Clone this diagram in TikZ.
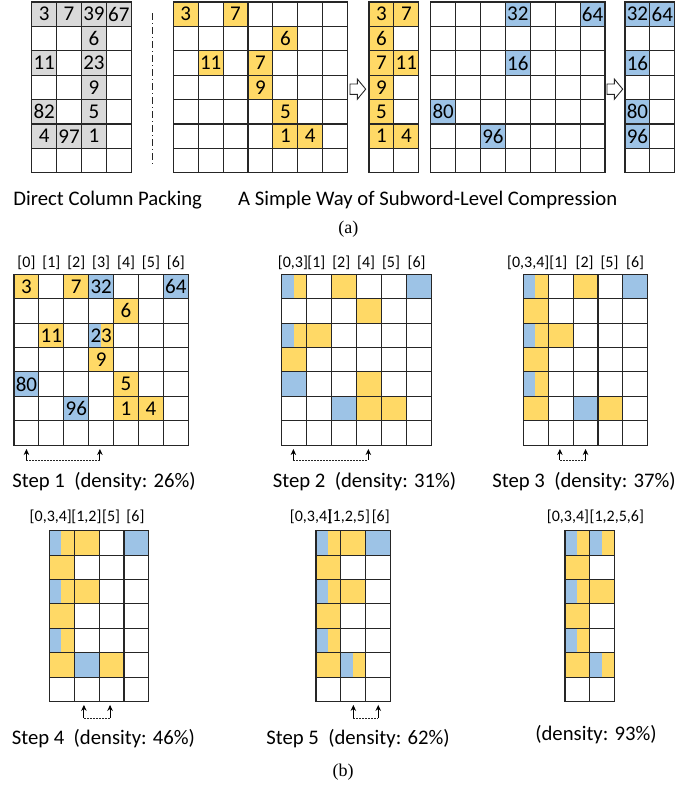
\documentclass[tikz,border=0pt]{standalone}
\usepackage{fontspec}
\setmainfont{Carlito}
\newfontfamily\serifcap{Liberation Serif}
\usetikzlibrary{arrows.meta}
\definecolor{myyellow}{HTML}{FFD966}
\definecolor{myblue}{HTML}{9DC3E6}
\definecolor{mygray}{HTML}{D9D9D9}
\definecolor{mydark}{HTML}{262626}

% 7-row grid with #1 columns, in cell units
\newcommand{\cellgrid}[1]{%
  \foreach \gi in {0,...,#1} \draw[gridline] (\gi,0) -- (\gi,7);
  \foreach \gj in {0,...,7} \draw[gridline] (0,\gj) -- (#1,\gj);
}
% cell shared by a blue and a yellow subword
\newcommand{\splitcell}[2]{%
  \fill[bcell] (#1,#2) rectangle ++(0.48,1);
  \fill[ycell] (#1+0.48,#2) rectangle ++(0.52,1);
}
% outlined block arrow, #1 = its upper left shaft corner
\newcommand{\hollowarrow}[1]{%
  \draw[hollow] (#1) -- ++(7.3,0) -- ++(0,-5) -- ++(8.4,10.15)
    -- ++(-8.4,10.15) -- ++(0,-5) -- ++(-7.3,0) -- cycle;
}

\begin{document}
\begin{tikzpicture}[x=1pt, y=-1pt,
  cellunits/.style={x=24.9pt, y=-24.4pt},
  gridline/.style={draw=mydark, line width=1.1pt, line cap=rect},
  ycell/.style={fill=myyellow},
  bcell/.style={fill=myblue},
  gcell/.style={fill=mygray},
  num/.style={font=\fontsize{21}{21}\selectfont, inner sep=0pt},
  colhead/.style={font=\fontsize{16}{16}\selectfont, inner sep=0pt},
  captext/.style={font=\fontsize{20.7}{24}\selectfont, anchor=base, inner sep=0pt},
  sublabel/.style={font=\serifcap\fontsize{18}{18}\selectfont, inner sep=0pt},
  hollow/.style={draw=mydark, fill=white, line width=0.9pt, line join=miter},
  dotlink/.style={draw=mydark, line width=0.7pt, dash pattern=on 1.8pt off 1.2pt},
  uparrow/.style={draw=black, line width=0.9pt, -{Stealth[length=6pt, width=5.5pt]}},
  sepline/.style={draw=mydark, line width=0.7pt, dash pattern=on 7pt off 3pt on 1pt off 3pt},
]
\useasboundingbox (0,0) rectangle (699,787);

% (a) direct column packing
\begin{scope}[shift={(31.7,2)}, cellunits]
  \foreach \c/\r in {0/0, 1/0, 2/0, 3/0, 2/1, 0/2, 2/2, 2/3, 0/4, 2/4, 0/5, 1/5, 2/5} \fill[gcell] (\c,\r) rectangle ++(1,1);
  \cellgrid{4}
  \foreach \c/\r/\v in {0/0/3, 1/0/7, 2/0/39, 3/0/67, 2/1/6, 0/2/11, 2/2/23, 2/3/9, 0/4/82, 2/4/5, 0/5/4, 1/5/97, 2/5/1}
    \node[num] (dp-\c-\r) at (\c+.5,\r+.5) {\v};
\end{scope}

\draw[sepline] (152.7,13) -- (152.7,165);

% (a) subword-level compression
\begin{scope}[shift={(173.3,2)}, cellunits]
  \foreach \c/\r in {0/0, 2/0, 4/1, 1/2, 3/2, 3/3, 4/4, 4/5, 5/5} \fill[ycell] (\c,\r) rectangle ++(1,1);
  \cellgrid{7}
  \foreach \c/\r/\v in {0/0/3, 2/0/7, 4/1/6, 1/2/11, 3/2/7, 3/3/9, 4/4/5, 4/5/1, 5/5/4}
    \node[num] (yb-\c-\r) at (\c+.5,\r+.5) {\v};
\end{scope}

\coordinate (arr1) at (350,84);
\hollowarrow{arr1}

\begin{scope}[shift={(369,2)}, cellunits]
  \foreach \c/\r in {0/0, 1/0, 0/1, 0/2, 1/2, 0/3, 0/4, 0/5, 1/5} \fill[ycell] (\c,\r) rectangle ++(1,1);
  \cellgrid{2}
  \foreach \c/\r/\v in {0/0/3, 1/0/7, 0/1/6, 0/2/7, 1/2/11, 0/3/9, 0/4/5, 0/5/1, 1/5/4}
    \node[num] (yc-\c-\r) at (\c+.5,\r+.5) {\v};
\end{scope}

\begin{scope}[shift={(430.7,2)}, cellunits]
  \foreach \c/\r in {3/0, 6/0, 3/2, 0/4, 2/5} \fill[bcell] (\c,\r) rectangle ++(1,1);
  \cellgrid{7}
  \foreach \c/\r/\v in {3/0/32, 6/0/64, 3/2/16, 0/4/80, 2/5/96}
    \node[num] (bb-\c-\r) at (\c+.5,\r+.5) {\v};
\end{scope}

\coordinate (arr2) at (607,84);
\hollowarrow{arr2}

\begin{scope}[shift={(625,2)}, cellunits]
  \foreach \c/\r in {0/0, 1/0, 0/2, 0/4, 0/5} \fill[bcell] (\c,\r) rectangle ++(1,1);
  \cellgrid{2}
  \foreach \c/\r/\v in {0/0/32, 1/0/64, 0/2/16, 0/4/80, 0/5/96}
    \node[num] (bc-\c-\r) at (\c+.5,\r+.5) {\v};
\end{scope}

\node[captext] (capdp) at (107.7,205) {Direct Column Packing};
\node[captext] (capsw) at (427.7,205) {A Simple Way of Subword-Level Compression};
\node[sublabel] (suba) at (348.3,229) {(a)};

% (b) step 1
\begin{scope}[shift={(14,274.3)}, cellunits]
  \foreach \c/\r in {0/0, 2/0, 4/1, 1/2, 3/3, 4/4, 4/5, 5/5} \fill[ycell] (\c,\r) rectangle ++(1,1);
  \foreach \c/\r in {3/0, 6/0, 0/4, 2/5} \fill[bcell] (\c,\r) rectangle ++(1,1);
  \splitcell{3}{2}
  \cellgrid{7}
  \foreach \c/\r/\v in {0/0/3, 2/0/7, 3/0/32, 6/0/64, 4/1/6, 1/2/11, 3/2/23, 3/3/9, 0/4/80, 4/4/5, 2/5/96, 4/5/1, 5/5/4}
    \node[num] (s1-\c-\r) at (\c+.5,\r+.5) {\v};
  \foreach \c in {0,...,6} \node[colhead] (s1h\c) at (\c+.5,-0.49) {[\c]};
  \coordinate (s1a) at (0.5,7.61);
  \coordinate (s1b) at (3.45,7.61);
  \coordinate (s1at) at (0.5,7.16);
  \coordinate (s1bt) at (3.45,7.16);
  \draw[dotlink] (s1a) -- (s1b);
  \draw[uparrow] (s1a) -- (s1at);
  \draw[uparrow] (s1b) -- (s1bt);
\end{scope}

% step 2
\begin{scope}[shift={(281.7,274.3)}, cellunits]
  \foreach \c/\r in {2/0, 3/1, 1/2, 0/3, 3/4, 3/5, 4/5} \fill[ycell] (\c,\r) rectangle ++(1,1);
  \foreach \c/\r in {5/0, 0/4, 2/5} \fill[bcell] (\c,\r) rectangle ++(1,1);
  \foreach \c/\r in {0/0, 0/2} {\splitcell{\c}{\r}}
  \cellgrid{6}
  \foreach \x/\t [count=\i] in {0.45/{[0,3]}, 1.39/[1], 2.39/[2], 3.39/[4], 4.39/[5], 5.42/[6]}
    \node[colhead] (s2h\i) at (\x,-0.49) {\t};
  \coordinate (s2a) at (0.47,7.61);
  \coordinate (s2b) at (3.48,7.61);
  \coordinate (s2at) at (0.47,7.16);
  \coordinate (s2bt) at (3.48,7.16);
  \draw[dotlink] (s2a) -- (s2b);
  \draw[uparrow] (s2a) -- (s2at);
  \draw[uparrow] (s2b) -- (s2bt);
\end{scope}

% step 3
\begin{scope}[shift={(523.3,274.3)}, cellunits]
  \foreach \c/\r in {2/0, 0/1, 1/2, 0/3, 0/5, 3/5} \fill[ycell] (\c,\r) rectangle ++(1,1);
  \foreach \c/\r in {4/0, 2/5} \fill[bcell] (\c,\r) rectangle ++(1,1);
  \foreach \c/\r in {0/0, 0/2, 0/4} {\splitcell{\c}{\r}}
  \cellgrid{5}
  \foreach \x/\t [count=\i] in {0.2/{[0,3,4]}, 1.41/[1], 2.46/[2], 3.46/[5], 4.49/[6]}
    \node[colhead] (s3h\i) at (\x,-0.49) {\t};
  \coordinate (s3a) at (1.47,7.61);
  \coordinate (s3b) at (2.5,7.61);
  \coordinate (s3at) at (1.47,7.16);
  \coordinate (s3bt) at (2.5,7.16);
  \draw[dotlink] (s3a) -- (s3b);
  \draw[uparrow] (s3a) -- (s3at);
  \draw[uparrow] (s3b) -- (s3bt);
\end{scope}

\node[captext] (cap1) at (104,487) {Step 1\ \ (density: 26\%)};
\node[captext] (cap2) at (364.5,487) {Step 2\ \ (density: 31\%)};
\node[captext] (cap3) at (584,487) {Step 3\ \ (density: 37\%)};

% step 4
\begin{scope}[shift={(49.3,530.7)}, cellunits]
  \foreach \c/\r in {1/0, 0/1, 1/2, 0/3, 0/5, 2/5} \fill[ycell] (\c,\r) rectangle ++(1,1);
  \foreach \c/\r in {3/0, 1/5} \fill[bcell] (\c,\r) rectangle ++(1,1);
  \foreach \c/\r in {0/0, 0/2, 0/4} {\splitcell{\c}{\r}}
  \cellgrid{4}
  \foreach \x/\t [count=\i] in {0.06/{[0,3,4]}, 1.49/{[1,2]}, 2.48/[5], 3.46/[6]}
    \node[colhead] (s4h\i) at (\x,-0.56) {\t};
  \coordinate (s4a) at (1.39,7.67);
  \coordinate (s4b) at (2.44,7.67);
  \coordinate (s4at) at (1.39,7.14);
  \coordinate (s4bt) at (2.44,7.14);
  \draw[dotlink] (s4a) -- (s4b);
  \draw[uparrow] (s4a) -- (s4at);
  \draw[uparrow] (s4b) -- (s4bt);
\end{scope}

% step 5
\begin{scope}[shift={(316,530.7)}, cellunits]
  \foreach \c/\r in {1/0, 0/1, 1/2, 0/3, 0/5} \fill[ycell] (\c,\r) rectangle ++(1,1);
  \fill[bcell] (2,0) rectangle ++(1,1);
  \foreach \c/\r in {0/0, 0/2, 0/4, 1/5} {\splitcell{\c}{\r}}
  \cellgrid{3}
  \foreach \x/\t [count=\i] in {-0.2/{[0,3,4]}, 1.32/{[1,2,5]}, 2.6/[6]}
    \node[colhead] (s5h\i) at (\x,-0.56) {\t};
  \coordinate (s5a) at (1.5,7.67);
  \coordinate (s5b) at (2.5,7.67);
  \coordinate (s5at) at (1.5,7.14);
  \coordinate (s5bt) at (2.5,7.14);
  \draw[dotlink] (s5a) -- (s5b);
  \draw[uparrow] (s5a) -- (s5at);
  \draw[uparrow] (s5b) -- (s5bt);
\end{scope}

% final layout
\begin{scope}[shift={(565,530.7)}, cellunits]
  \foreach \c/\r in {0/1, 1/2, 0/3, 0/5} \fill[ycell] (\c,\r) rectangle ++(1,1);
  \foreach \c/\r in {0/0, 1/0, 0/2, 0/4, 1/5} {\splitcell{\c}{\r}}
  \cellgrid{2}
  \foreach \x/\t [count=\i] in {0.12/{[0,3,4]}, 2.08/{[1,2,5,6]}}
    \node[colhead] (s6h\i) at (\x,-0.56) {\t};
\end{scope}

\node[captext] (cap4) at (103.4,744) {Step 4\ \ (density: 46\%)};
\node[captext] (cap5) at (358,744) {Step 5\ \ (density: 62\%)};
\node[captext] (cap6) at (596,740) {(density: 93\%)};
\node[sublabel] (subb) at (343,772) {(b)};
\end{tikzpicture}
\end{document}
